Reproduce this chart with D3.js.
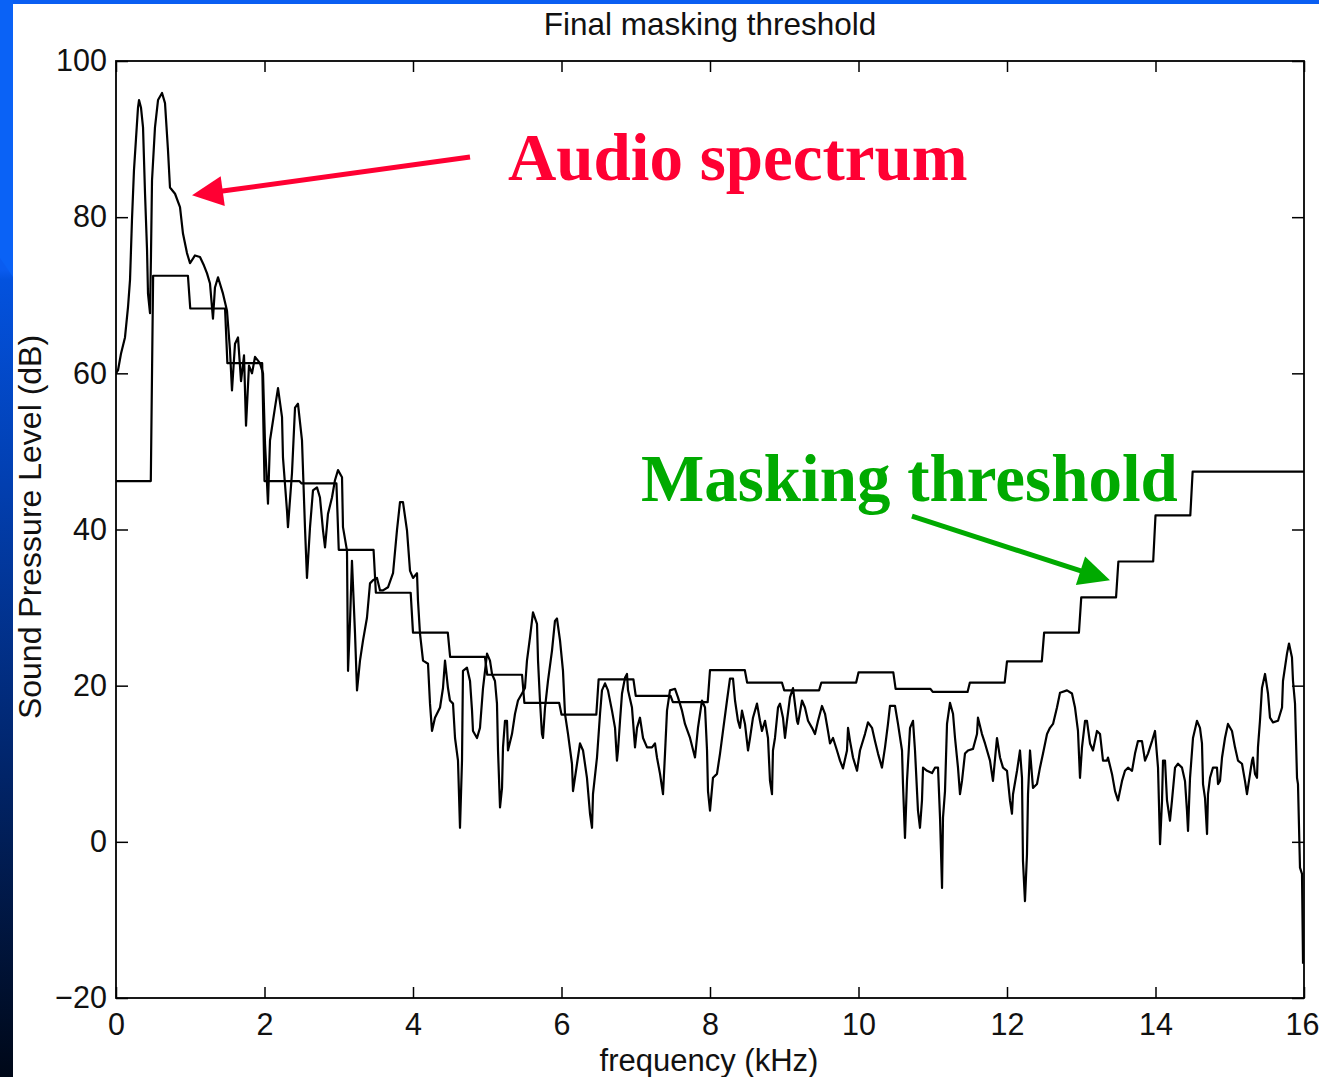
<!DOCTYPE html>
<html>
<head>
<meta charset="utf-8">
<script src="https://cdn.jsdelivr.net/npm/d3@7"></script>
<style>
  html, body { margin: 0; padding: 0; background: #fff; }
  svg { display: block; }
</style>
</head>
<body>
<svg id="chart" width="1319" height="1077"></svg>
<script>
// ---- axis ticks ----
const xTicks = [0, 2, 4, 6, 8, 10, 12, 14, 16];
const yTicks = [-20, 0, 20, 40, 60, 80, 100];

// ---- masking threshold: one level (dB) per 0.5 kHz subband, 32 subbands ----
const bandWidthKHz = 0.5;
const binKHz = 0.03125;
const thresholdDb = [
  46.2, 72.5, 68.3, 61.3, 46.2, 45.9, 37.4, 31.9,
  26.8, 23.7, 21.4, 17.8, 16.3, 20.8, 18.7, 17.9,
  22.0, 20.4, 19.4, 20.4, 21.7, 19.6, 19.2, 20.4,
  23.1, 26.8, 31.3, 35.9, 41.8, 47.4, 47.4, 47.4
];

// ---- audio spectrum: [frequency kHz, level dB] ----
const spectrum = [
  [0.000,60.0],[0.027,60.4],[0.067,62.5],[0.121,64.6],[0.162,68.5],[0.189,72.0],[0.215,79.6],[0.242,86.0],
  [0.269,90.0],[0.296,94.0],[0.310,95.0],[0.337,94.0],[0.364,91.5],[0.391,83.0],[0.418,75.8],[0.431,70.2],
  [0.458,67.7],[0.471,75.0],[0.485,84.7],[0.525,91.5],[0.566,95.0],[0.620,95.9],[0.660,94.6],[0.700,88.6],
  [0.727,83.8],[0.795,83.0],[0.862,81.3],[0.902,77.9],[0.956,75.4],[0.997,74.1],[1.064,75.1],[1.131,74.9],
  [1.185,73.8],[1.226,72.8],[1.266,71.5],[1.306,67.0],[1.333,71.0],[1.374,72.3],[1.441,70.2],[1.495,68.0],
  [1.535,63.0],[1.562,57.8],[1.603,63.8],[1.643,64.6],[1.684,59.0],[1.724,62.3],[1.751,53.3],[1.791,61.0],
  [1.832,60.0],[1.872,62.1],[1.939,61.3],[1.980,60.0],[2.007,51.0],[2.034,45.9],[2.047,43.3],[2.074,51.4],
  [2.141,55.6],[2.182,58.1],[2.236,54.4],[2.249,49.2],[2.303,42.4],[2.316,40.3],[2.370,47.2],[2.411,55.6],
  [2.451,56.1],[2.505,51.4],[2.545,40.3],[2.572,33.8],[2.586,36.0],[2.613,40.3],[2.653,45.0],[2.707,45.4],
  [2.747,44.1],[2.788,39.9],[2.815,37.7],[2.855,42.0],[2.909,44.1],[2.949,46.3],[2.990,47.6],[3.044,46.7],
  [3.057,40.3],[3.111,37.3],[3.125,21.9],[3.152,28.3],[3.178,36.0],[3.219,26.7],[3.246,19.4],[3.286,23.2],
  [3.327,25.8],[3.380,28.7],[3.421,33.1],[3.461,33.5],[3.515,33.8],[3.556,32.2],[3.596,32.2],[3.663,32.6],
  [3.731,34.4],[3.784,39.9],[3.825,43.5],[3.865,43.5],[3.919,39.9],[3.960,34.7],[4.000,33.8],[4.054,34.4],
  [4.067,30.9],[4.094,26.7],[4.135,23.2],[4.202,22.8],[4.229,17.7],[4.256,14.2],[4.296,15.9],[4.364,17.2],
  [4.404,19.7],[4.431,23.2],[4.471,19.7],[4.498,18.1],[4.539,17.7],[4.566,13.3],[4.606,10.4],[4.633,1.8],
  [4.660,10.4],[4.673,21.9],[4.727,22.3],[4.768,20.6],[4.795,16.8],[4.808,14.2],[4.862,13.3],[4.902,14.6],
  [4.943,19.7],[4.997,24.1],[5.037,23.2],[5.064,21.5],[5.104,20.6],[5.131,17.7],[5.145,11.7],[5.172,4.4],
  [5.199,6.9],[5.212,12.1],[5.239,15.5],[5.266,15.5],[5.279,11.7],[5.333,13.8],[5.374,16.4],[5.414,18.1],
  [5.468,19.0],[5.508,19.7],[5.535,23.2],[5.576,26.2],[5.616,29.4],[5.670,27.9],[5.684,23.2],[5.710,18.1],
  [5.737,13.8],[5.751,13.3],[5.778,17.2],[5.818,20.6],[5.872,24.5],[5.912,28.3],[5.939,28.6],[5.980,25.8],
  [6.020,21.9],[6.047,16.4],[6.088,13.8],[6.141,10.0],[6.155,6.5],[6.209,10.0],[6.249,12.6],[6.290,11.7],
  [6.343,8.2],[6.384,3.6],[6.411,1.8],[6.424,6.1],[6.478,10.8],[6.519,16.4],[6.545,19.4],[6.586,20.3],
  [6.626,19.4],[6.680,16.8],[6.721,14.6],[6.747,10.4],[6.761,11.7],[6.788,15.5],[6.815,19.0],[6.855,21.0],
  [6.882,21.5],[6.896,19.4],[6.949,17.2],[6.963,15.5],[6.990,12.1],[7.017,14.6],[7.057,15.9],[7.098,13.3],
  [7.152,12.1],[7.219,12.1],[7.259,12.6],[7.286,10.8],[7.327,8.7],[7.367,6.1],[7.394,11.3],[7.421,16.8],
  [7.461,19.4],[7.529,19.6],[7.569,18.5],[7.623,16.8],[7.663,15.1],[7.731,13.3],[7.798,10.8],[7.838,14.6],
  [7.892,18.1],[7.933,17.2],[7.960,11.7],[7.973,6.5],[8.000,4.0],[8.040,8.2],[8.094,8.7],[8.135,11.3],
  [8.175,14.2],[8.229,18.1],[8.269,20.9],[8.310,20.9],[8.337,18.1],[8.377,15.5],[8.404,14.6],[8.431,16.8],
  [8.471,15.1],[8.512,11.7],[8.539,13.3],[8.579,15.9],[8.633,17.7],[8.673,15.5],[8.700,14.2],[8.741,15.5],
  [8.781,13.3],[8.808,7.8],[8.835,6.1],[8.848,11.7],[8.875,13.3],[8.916,17.2],[8.943,17.7],[8.983,15.9],
  [9.010,13.3],[9.037,15.5],[9.077,18.5],[9.118,19.7],[9.172,15.5],[9.185,15.1],[9.239,18.1],[9.279,17.2],
  [9.320,15.5],[9.374,14.6],[9.414,13.8],[9.455,15.5],[9.508,17.4],[9.549,16.4],[9.589,14.2],[9.616,12.6],
  [9.657,13.3],[9.710,11.7],[9.751,10.4],[9.791,9.4],[9.845,11.7],[9.859,14.6],[9.886,12.9],[9.926,10.8],
  [9.980,9.1],[10.020,11.7],[10.087,13.8],[10.128,15.3],[10.182,14.6],[10.222,12.9],[10.263,11.3],[10.316,9.5],
  [10.357,12.1],[10.397,15.1],[10.424,17.4],[10.492,17.4],[10.532,15.1],[10.586,11.7],[10.599,7.4],[10.626,0.5],
  [10.653,7.8],[10.694,14.6],[10.734,15.5],[10.761,11.7],[10.801,4.0],[10.828,1.8],[10.855,5.3],[10.869,9.5],
  [10.923,9.1],[10.990,8.8],[11.030,9.5],[11.071,9.5],[11.098,3.1],[11.125,-5.9],[11.138,3.1],[11.165,6.5],
  [11.192,15.1],[11.232,17.8],[11.273,16.4],[11.300,13.3],[11.340,9.5],[11.367,6.1],[11.394,7.8],[11.434,11.3],
  [11.475,11.7],[11.542,11.9],[11.596,13.8],[11.609,15.9],[11.663,13.8],[11.704,12.6],[11.771,10.4],[11.811,7.8],
  [11.865,13.3],[11.906,10.8],[11.946,9.5],[12.000,9.1],[12.040,5.3],[12.067,3.6],[12.081,6.1],[12.135,9.1],
  [12.175,11.7],[12.202,8.2],[12.215,-2.4],[12.242,-7.6],[12.269,-1.6],[12.283,6.1],[12.310,11.7],[12.350,6.9],
  [12.404,7.4],[12.444,9.5],[12.485,11.3],[12.539,13.8],[12.579,14.6],[12.620,15.1],[12.673,17.2],[12.714,19.1],
  [12.808,19.4],[12.875,19.0],[12.916,17.2],[12.956,14.2],[12.983,8.2],[13.010,12.1],[13.051,15.5],[13.077,15.5],
  [13.118,12.6],[13.158,11.7],[13.212,14.2],[13.253,13.8],[13.293,10.4],[13.347,10.4],[13.360,10.8],[13.414,8.7],
  [13.455,6.5],[13.495,5.3],[13.549,7.8],[13.589,9.1],[13.630,9.5],[13.684,9.1],[13.724,11.3],[13.764,12.9],
  [13.818,12.9],[13.859,10.4],[13.899,11.3],[13.953,12.9],[13.993,14.2],[14.034,9.5],[14.061,-0.3],[14.088,5.3],
  [14.101,10.4],[14.128,10.4],[14.155,5.3],[14.195,2.7],[14.222,5.3],[14.263,9.5],[14.303,10.0],[14.357,9.5],
  [14.397,7.8],[14.424,4.0],[14.438,1.4],[14.465,8.2],[14.505,13.3],[14.559,15.5],[14.599,14.6],[14.626,12.6],
  [14.640,7.4],[14.667,5.6],[14.694,1.0],[14.707,6.1],[14.734,8.2],[14.774,9.5],[14.828,9.5],[14.842,7.4],
  [14.869,7.8],[14.896,10.8],[14.936,13.3],[14.976,15.1],[15.030,14.2],[15.071,12.1],[15.111,10.4],[15.165,10.0],
  [15.205,7.8],[15.232,6.1],[15.273,8.7],[15.300,10.4],[15.313,10.8],[15.340,8.7],[15.367,8.2],[15.380,12.1],
  [15.407,15.5],[15.434,19.7],[15.475,21.5],[15.515,19.0],[15.542,15.9],[15.582,15.3],[15.650,15.5],[15.704,17.2],
  [15.717,20.6],[15.771,24.1],[15.798,25.4],[15.838,23.6],[15.852,20.6],[15.879,17.7],[15.906,8.2],[15.919,7.4],
  [15.946,-3.3],[15.973,-4.1],[15.987,-15.6]
];

// ---- annotations, placed in data units ----
const annotations = [
  { text: "Audio spectrum", color: "#ff0033", at: [5.279, 84.7],
    tail: [4.768, 87.7], tip: [1.024, 82.8] },
  { text: "Masking threshold", color: "#00aa00", at: [7.071, 43.7],
    tail: [10.720, 41.7], tip: [13.387, 33.5] }
];

const W = 1319, H = 1077;
const plot = { left: 116, right: 1304, top: 61, bottom: 998 };
const axisFont = "'Liberation Sans', Arial, Helvetica, sans-serif";
const labelFont = "'Liberation Serif', 'Times New Roman', serif";

const svg = d3.select("#chart");

// slide-style backdrop: blue band on top, gradient strip on the left
const defs = svg.append("defs");
const grad = defs.append("linearGradient")
  .attr("id", "leftStrip").attr("x1", 0).attr("y1", 0).attr("x2", 0).attr("y2", 1);
[[0, "#0a5ef2"], [0.25, "#0a5cf0"], [0.26, "#0352de"], [0.45, "#023fb0"],
 [0.7, "#01266e"], [1, "#000818"]].forEach(([o, c]) =>
  grad.append("stop").attr("offset", o).attr("stop-color", c));

svg.append("rect").attr("width", W).attr("height", H).attr("fill", "#fff");
svg.append("rect").attr("x", 0).attr("y", 0).attr("width", W).attr("height", 4).attr("fill", "#0a5ef2");
svg.append("rect").attr("x", 0).attr("y", 0).attr("width", 13).attr("height", H).attr("fill", "url(#leftStrip)");
svg.append("polygon").attr("points", "0,0 13,0 13,277 0,258").attr("fill", "#0a62f6");

// scales
const x = d3.scaleLinear().domain([0, 16]).range([plot.left, plot.right]);
const y = d3.scaleLinear().domain([-20, 100]).range([plot.bottom, plot.top]);

function styleAxis(g) {
  g.select(".domain").remove();
  g.selectAll(".tick line").attr("stroke", "#000").attr("stroke-width", 1.5);
  g.selectAll(".tick text").attr("fill", "#111")
    .style("font-family", axisFont).style("font-size", "30.5px");
}

const xAxisG = svg.append("g").attr("transform", `translate(0,${plot.bottom})`)
  .call(d3.axisBottom(x).tickValues(xTicks).tickSizeInner(-11).tickSizeOuter(0).tickPadding(15))
  .call(styleAxis);
// last label sits against the right edge of the page
xAxisG.selectAll(".tick text").filter(d => d === xTicks[xTicks.length - 1])
  .attr("text-anchor", "end").attr("x", W - plot.right);

svg.append("g").attr("transform", `translate(0,${plot.top})`)
  .call(d3.axisTop(x).tickValues(xTicks).tickSizeInner(-11).tickSizeOuter(0).tickFormat(""))
  .call(styleAxis);
svg.append("g").attr("transform", `translate(${plot.left},0)`)
  .call(d3.axisLeft(y).tickValues(yTicks).tickSizeInner(-12).tickSizeOuter(0).tickPadding(9)
    .tickFormat(d => d < 0 ? "\u2212" + Math.abs(d) : d))
  .call(styleAxis);
svg.append("g").attr("transform", `translate(${plot.right},0)`)
  .call(d3.axisRight(y).tickValues(yTicks).tickSizeInner(-12).tickSizeOuter(0).tickFormat(""))
  .call(styleAxis);

// plot frame
svg.append("rect")
  .attr("x", plot.left).attr("y", plot.top)
  .attr("width", plot.right - plot.left).attr("height", plot.bottom - plot.top)
  .attr("fill", "none").attr("stroke", "#000").attr("stroke-width", 1.8);

// titles
svg.append("text").attr("x", 710).attr("y", 35).attr("text-anchor", "middle")
  .style("font-family", axisFont).style("font-size", "31.5px").attr("fill", "#111")
  .text("Final masking threshold");
svg.append("text").attr("x", 709).attr("y", 1071).attr("text-anchor", "middle")
  .style("font-family", axisFont).style("font-size", "31px").attr("fill", "#111")
  .text("frequency (kHz)");
svg.append("text").attr("transform", "translate(41,527) rotate(-90)").attr("text-anchor", "middle")
  .style("font-family", axisFont).style("font-size", "32px").attr("fill", "#111")
  .text("Sound Pressure Level (dB)");

// threshold step curve built from the subband levels, one point per bin edge
const thresholdPoints = [];
thresholdDb.forEach((v, k) => {
  thresholdPoints.push([k * bandWidthKHz, v]);
  thresholdPoints.push([(k + 1) * bandWidthKHz - binKHz, v]);
});
thresholdPoints[thresholdPoints.length - 1][0] = 16;

const line = d3.line().x(d => x(d[0])).y(d => y(d[1]));

const clip = defs.append("clipPath").attr("id", "plotClip");
clip.append("rect").attr("x", plot.left).attr("y", plot.top)
  .attr("width", plot.right - plot.left).attr("height", plot.bottom - plot.top);

const marks = svg.append("g").attr("clip-path", "url(#plotClip)");
marks.append("path").datum(thresholdPoints).attr("d", line)
  .attr("fill", "none").attr("stroke", "#000").attr("stroke-width", 2.2)
  .attr("stroke-linejoin", "round");
marks.append("path").datum(spectrum).attr("d", line)
  .attr("fill", "none").attr("stroke", "#000").attr("stroke-width", 2.2)
  .attr("stroke-linejoin", "round");

// annotation labels and arrows
annotations.forEach(a => {
  svg.append("text").attr("x", x(a.at[0])).attr("y", y(a.at[1]))
    .style("font-family", labelFont).style("font-weight", "bold").style("font-size", "67px")
    .attr("fill", a.color).text(a.text);

  const tx = x(a.tail[0]), ty = y(a.tail[1]);
  const px = x(a.tip[0]), py = y(a.tip[1]);
  const dx = px - tx, dy = py - ty, len = Math.hypot(dx, dy);
  const ux = dx / len, uy = dy / len, nx = -uy, ny = ux;
  const headLen = 31, headHalf = 15;
  const bx = px - ux * headLen, by = py - uy * headLen;
  svg.append("line").attr("x1", tx).attr("y1", ty).attr("x2", bx + ux * 2).attr("y2", by + uy * 2)
    .attr("stroke", a.color).attr("stroke-width", 5);
  svg.append("polygon")
    .attr("points", [[px, py], [bx + nx * headHalf, by + ny * headHalf], [bx - nx * headHalf, by - ny * headHalf]]
      .map(p => p.join(",")).join(" "))
    .attr("fill", a.color);
});
</script>
</body>
</html>
